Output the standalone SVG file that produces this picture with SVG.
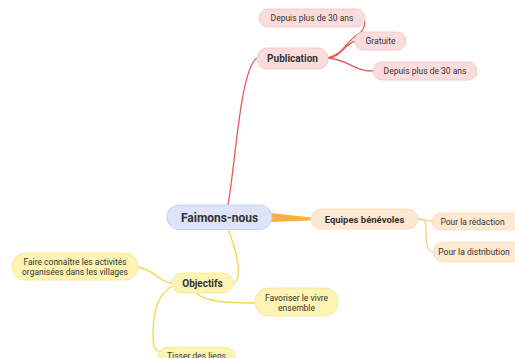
<svg xmlns="http://www.w3.org/2000/svg" width="515" height="358" viewBox="0 0 515 358">
<style>
text{font-family:Roboto,"Liberation Sans",sans-serif;fill:#333;text-anchor:middle;dominant-baseline:central}
.b{font-weight:bold}
.s{font-size:8.5px}
.pk{fill:#fbdcdc;stroke:#f6caca;stroke-width:1}
.bl{fill:#dde4f9;stroke:#c8d0f0;stroke-width:1}
.or{fill:#fde9d2;stroke:#fbe0c0;stroke-width:1}
.ye{fill:#fcf3b4;stroke:#f8eaa0;stroke-width:1}
.er{fill:none;stroke:#e35b5b;stroke-width:1.3}
.ey{fill:none;stroke:#f2d54a;stroke-width:1.3}
.eo{fill:none;stroke:#f3c06a;stroke-width:1}
</style>
<rect width="515" height="358" fill="#fff"/>
<g id="connectors">
<path class="er" d="M228,205 C236,160 240,70 257,58"/>
<path class="er" d="M328,58 C342,57 346,42 356,41"/>
<path class="er" d="M328,58 C342,55 348,40 357,35 C364,31 366,24 364,18"/>
<path class="er" d="M328,58 C350,60 352,71 373,71"/>
<path d="M271,213 L311,217.5 L311,220.5 L271,222 Z" fill="#f7b13c"/>
<path class="eo" d="M418,219 C424,219 426,221 432,221"/>
<path class="eo" d="M418,219 C426,219 426,222 426,232 C426,246 428,252 433,252"/>
<path class="ey" d="M228,229 C236,250 240,265 238,276 C237,282 235,284 232,284"/>
<path class="ey" d="M138,267 C155,270 160,283 172,283"/>
<path class="ey" d="M196,293 C205,302 230,303 255,303"/>
<path class="ey" d="M172,286 C158,295 153,310 153,335 C153,345 154,351 161,352"/>
</g>
<g id="center"><rect class="bl" x="167" y="205" width="105" height="24.5" rx="12"/><text class="b" x="219.5" y="217.5" font-size="12">Faimons-nous</text></g>
<g id="publication"><rect class="pk" x="257" y="48" width="71" height="21" rx="10"/><text class="b" x="292.5" y="58.5" font-size="10">Publication</text></g>
<g id="pub1"><rect class="pk" x="259" y="9" width="106" height="18" rx="9"/><text class="s" x="312" y="18">Depuis plus de 30 ans</text></g>
<g id="pub2"><rect class="pk" x="355" y="32" width="51" height="18" rx="9"/><text class="s" x="380.5" y="41">Gratuite</text></g>
<g id="pub3"><rect class="pk" x="373" y="62" width="104" height="18" rx="9"/><text class="s" x="425" y="71">Depuis plus de 30 ans</text></g>
<g id="equipes"><rect class="or" x="311" y="209" width="107" height="20" rx="10"/><text class="b" x="364.5" y="219" font-size="9.5">Equipes bénévoles</text></g>
<g id="redaction"><rect class="or" x="432" y="213" width="90" height="17" rx="8.5"/><text class="s" x="472.5" y="221.5">Pour la rédaction</text></g>
<g id="distribution"><rect class="or" x="433" y="242" width="90" height="20" rx="10"/><text class="s" x="474" y="252">Pour la distribution</text></g>
<g id="objectifs"><rect class="ye" x="172" y="273" width="61" height="20" rx="10"/><text class="b" x="202.5" y="283.5" font-size="10">Objectifs</text></g>
<g id="faire"><rect class="ye" x="12" y="253" width="126" height="27" rx="13"/><text class="s" x="75" y="261.5">Faire connaître les activités</text><text class="s" x="75" y="271.5">organisées dans les villages</text></g>
<g id="favoriser"><rect class="ye" x="255" y="288" width="83" height="28" rx="13"/><text class="s" x="296.5" y="297.5">Favoriser le vivre</text><text class="s" x="296.5" y="307.5">ensemble</text></g>
<g id="tisser"><rect class="ye" x="158" y="347" width="77" height="22" rx="10"/><text class="s" x="196.5" y="355.5">Tisser des liens</text></g>
</svg>
